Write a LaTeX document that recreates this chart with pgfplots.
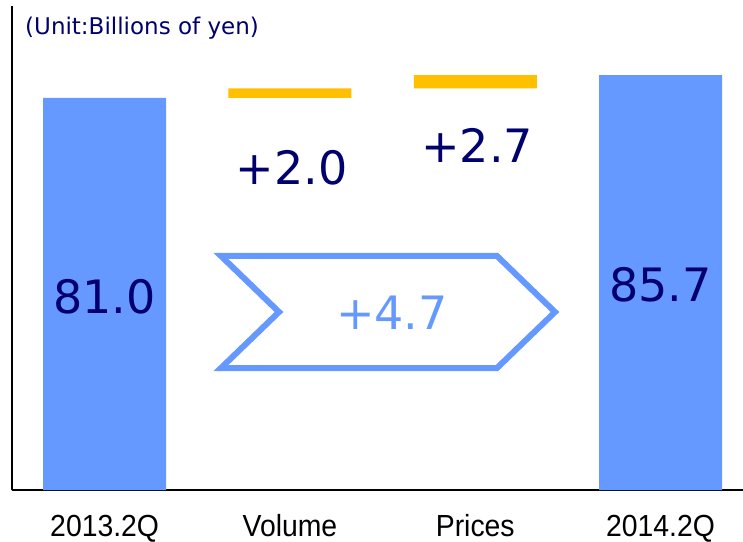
\documentclass[border=0pt]{standalone}
\usepackage{pgfplots}
\pgfplotsset{compat=1.18}
\usepackage{fontspec}
\setmainfont{DejaVu Sans}
\newfontfamily\narrowfont[FakeStretch=0.93]{Liberation Sans}
\definecolor{barblue}{RGB}{102,153,255}
\definecolor{barorange}{RGB}{255,192,0}
\definecolor{navy}{RGB}{0,0,110}
\begin{document}
\begin{tikzpicture}
\useasboundingbox (-12pt,-51pt) rectangle (731pt,490pt);
\begin{axis}[
  scale only axis,
  width=731pt, height=484pt,
  xmin=-0.5, xmax=3.445, ymin=0, ymax=100,
  axis lines*=left,
  axis line style={line width=1.3pt, black},
  ybar stacked,
  bar width=123pt,
  ytick=\empty,
  xtick={0,1,2,3},
  xticklabels={2013.2Q,Volume,Prices,2014.2Q},
  major tick length=0pt,
  xticklabel style={anchor=base, yshift=-46pt, inner sep=0pt, font=\narrowfont\fontsize{30.5}{34}\selectfont, text=black},
  clip=false,
]
\addplot[fill=barblue, draw=none] coordinates {(0,81.0) (1,0) (2,0) (3,85.7)};
\addplot[fill=none, draw=none] coordinates {(0,0) (1,81.0) (2,83.0) (3,0)};
\addplot[fill=barorange, draw=none] coordinates {(0,0) (1,2.0) (2,2.7) (3,0)};
\coordinate (L0) at (axis cs:0,39.9);
\coordinate (L3) at (axis cs:3,42.4);
\coordinate (L1) at (axis cs:1.01,66.5);
\coordinate (L2) at (axis cs:2.01,71.1);
\coordinate (LT) at (axis cs:1.55,36.6);
\end{axis}
\node[inner sep=0pt, text=navy, font=\fontsize{46}{50}\selectfont] at (L0) {81.0};
\node[inner sep=0pt, text=navy, font=\fontsize{46}{50}\selectfont] at (L3) {85.7};
\node[inner sep=0pt, text=navy, font=\fontsize{46}{50}\selectfont] at (L1) {+2.0};
\node[inner sep=0pt, text=navy, font=\fontsize{46}{50}\selectfont] at (L2) {+2.7};
\draw[barblue, line width=6pt, line join=miter] (209pt,234pt) -- (485pt,234pt) -- (543pt,178pt) -- (485pt,122pt) -- (209pt,122pt) -- (267pt,178pt) -- cycle;
\node[inner sep=0pt, text=barblue, font=\fontsize{46}{50}\selectfont] at (LT) {+4.7};
\node[anchor=west, inner sep=0pt, text=navy, font=\fontsize{23}{28}\selectfont] at (13pt,462pt) {(Unit:Billions of yen)};
\end{tikzpicture}
\end{document}
